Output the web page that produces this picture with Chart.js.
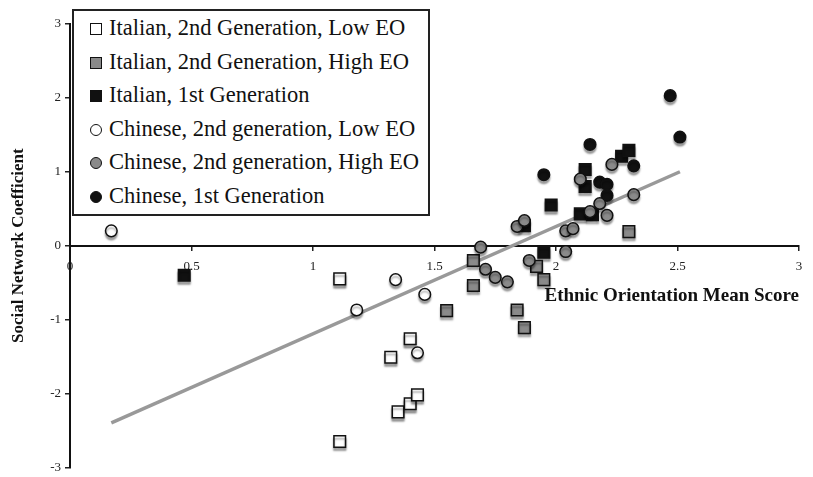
<!DOCTYPE html>
<html>
<head>
<meta charset="utf-8">
<script src="https://cdn.jsdelivr.net/npm/chart.js@4.4.1/dist/chart.umd.min.js"></script>
<style>
  body { margin: 0; background: #fff; }
  #wrap { position: relative; width: 813px; height: 477px; }
  #legend {
    position: absolute; left: 72px; top: 9px; width: 354px; height: 203px;
    border: 2px solid #222; background: #fff;
    font-family: "Liberation Serif", "Times New Roman", serif; font-size: 22.5px; color: #111;
    padding-top: 0; box-sizing: content-box;
  }
  #legend .item { height: 33.5px; line-height: 33.5px; white-space: nowrap; padding-left: 16px; }
  #legend .mk { display: inline-block; width: 10px; height: 10px; border: 1.5px solid #111; margin-right: 7px; vertical-align: 0px; }
  #legend .mk.circle { border-radius: 50%; }
</style>
</head>
<body>
<div id="wrap">
  <canvas id="chart" width="813" height="477"></canvas>
  <div id="legend"></div>
</div>
<script>
// series: [x, y] = [EO mean score, social network coefficient]
const itLow = [[1.11, -0.45], [1.11, -2.65], [1.32, -1.51], [1.40, -1.26], [1.35, -2.25], [1.40, -2.14], [1.43, -2.02]];
const itHigh = [[1.55, -0.88], [1.66, -0.20], [1.66, -0.54], [1.84, -0.87], [1.92, -0.28], [1.95, -0.46], [1.87, -1.11], [2.30, 0.19]];
const itFirst = [[0.47, -0.40], [1.87, 0.27], [1.95, -0.09], [1.98, 0.55], [2.10, 0.43], [2.15, 0.42], [2.12, 0.80], [2.12, 1.03], [2.27, 1.21], [2.30, 1.29]];
const chLow = [[0.17, 0.20], [1.18, -0.87], [1.34, -0.46], [1.46, -0.66], [1.43, -1.45]];
const chHigh = [[1.69, -0.02], [1.71, -0.32], [1.75, -0.43], [1.80, -0.49], [1.89, -0.20], [1.84, 0.26], [1.87, 0.34], [2.04, 0.20],
  [2.07, 0.23], [2.04, -0.08], [2.10, 0.90], [2.23, 1.10], [2.18, 0.57], [2.14, 0.46], [2.21, 0.41], [2.32, 0.69]];
const chFirst = [[1.95, 0.96], [2.14, 1.37], [2.47, 2.03], [2.51, 1.47], [2.32, 1.08], [2.18, 0.86], [2.21, 0.83], [2.21, 0.68]];
// fit line end points
const fitLine = [[0.17, -2.40], [2.51, 1.00]];

const xTicks = [0, 0.5, 1, 1.5, 2, 2.5, 3];
const yTicks = [-3, -2, -1, 0, 1, 2, 3];

const toPts = arr => arr.map(p => ({ x: p[0], y: p[1] }));

function series(label, pts, shape, fill, order) {
  return {
    label: label,
    data: toPts(pts),
    pointStyle: shape,
    pointRadius: shape === 'rect' ? 8.2 : 5.8,
    pointHoverRadius: shape === 'rect' ? 8.2 : 5.8,
    backgroundColor: fill,
    borderColor: '#111',
    borderWidth: 1.5,
    order: order,
    clip: false
  };
}

const datasets = [
  series('Italian, 2nd Generation, Low EO', itLow, 'rect', '#ffffff', 4),
  series('Italian, 2nd Generation, High EO', itHigh, 'rect', '#8a8a8a', 5),
  series('Italian, 1st Generation', itFirst, 'rect', '#111111', 6),
  series('Chinese, 2nd generation, Low EO', chLow, 'circle', '#ffffff', 3),
  series('Chinese, 2nd generation, High EO', chHigh, 'circle', '#8a8a8a', 1),
  series('Chinese, 1st Generation', chFirst, 'circle', '#111111', 2),
  {
    type: 'line',
    label: 'fit',
    data: toPts(fitLine),
    borderColor: '#999999',
    borderWidth: 3.5,
    pointRadius: 0,
    order: 10
  }
];

// soft drop shadow under the markers
const markerShadow = {
  id: 'markerShadow',
  beforeDatasetDraw(chart, args) {
    if (chart.data.datasets[args.index].type === 'line') return;
    const ctx = chart.ctx;
    ctx.save();
    ctx.shadowColor = 'rgba(0,0,0,0.35)';
    ctx.shadowOffsetY = 3;
    ctx.shadowBlur = 2;
  },
  afterDatasetDraw(chart, args) {
    if (chart.data.datasets[args.index].type === 'line') return;
    chart.ctx.restore();
  }
};

const serif = "'Liberation Serif', 'Times New Roman', serif";

const chart = new Chart(document.getElementById('chart').getContext('2d'), {
  type: 'scatter',
  data: { datasets: datasets },
  options: {
    responsive: false,
    animation: false,
    layout: { padding: { left: 0, top: 24, right: 14, bottom: 0 } },
    plugins: { legend: { display: false }, tooltip: { enabled: false } },
    scales: {
      x: {
        type: 'linear',
        min: 0, max: 3,
        position: { y: 0 },
        afterBuildTicks: s => { s.ticks = xTicks.map(v => ({ value: v })); },
        ticks: { font: { family: serif, size: 13 }, color: '#222', padding: 9, maxRotation: 0, callback: v => String(v) },
        grid: { display: true, drawOnChartArea: false, tickLength: 4, color: '#222', lineWidth: 1.5 },
        border: { display: true, color: '#111', width: 2 },
        title: {
          display: true, text: 'Ethnic Orientation Mean Score', align: 'end',
          font: { family: serif, size: 19, weight: 'bold' }, color: '#111', padding: { top: 1 }
        }
      },
      y: {
        type: 'linear',
        min: -3, max: 3,
        position: 'left',
        afterFit: s => { s.width = 70; s.paddingTop = 0; s.paddingBottom = 0; },
        afterBuildTicks: s => { s.ticks = yTicks.map(v => ({ value: v })); },
        ticks: { font: { family: serif, size: 13 }, color: '#222', padding: 4 },
        grid: { display: true, drawOnChartArea: false, tickLength: 5, color: '#222', lineWidth: 1.5 },
        border: { display: true, color: '#111', width: 2 },
        title: {
          display: true, text: 'Social Network Coefficient',
          font: { family: serif, size: 17, weight: 'bold' }, color: '#111', padding: { top: 8, bottom: 0 }
        }
      }
    }
  },
  plugins: [markerShadow]
});

// legend box built from the datasets
const legend = document.getElementById('legend');
chart.data.datasets.filter(d => d.type !== 'line').forEach(d => {
  const row = document.createElement('div');
  row.className = 'item';
  const mk = document.createElement('span');
  mk.className = 'mk' + (d.pointStyle === 'circle' ? ' circle' : '');
  mk.style.background = d.backgroundColor;
  row.appendChild(mk);
  row.appendChild(document.createTextNode(d.label));
  legend.appendChild(row);
});
</script>
</body>
</html>
